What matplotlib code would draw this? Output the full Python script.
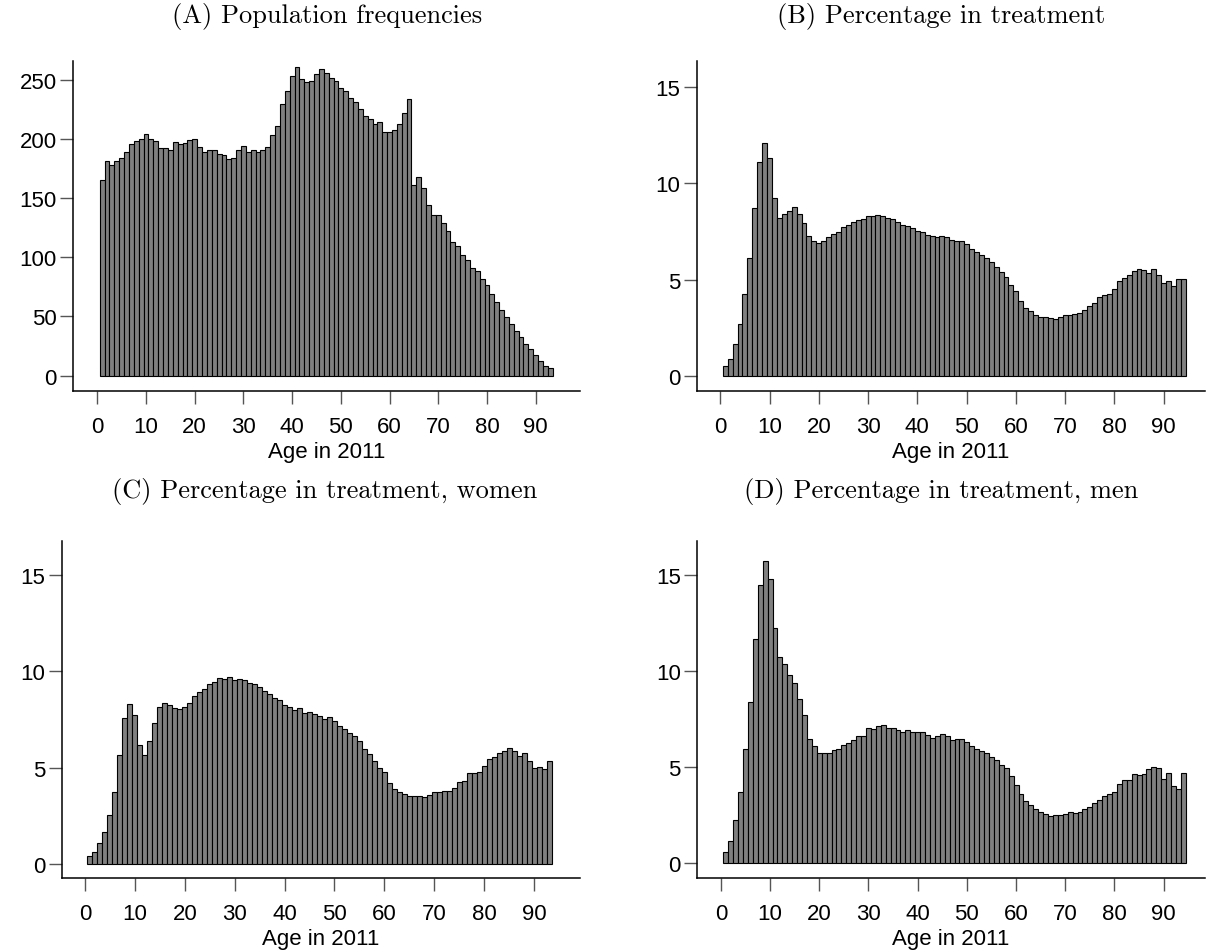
import matplotlib
matplotlib.use('Agg')
import matplotlib.pyplot as plt
import numpy as np

# ---- data: bars per single year of age ----
ages_a = np.arange(1, 94)
pop_freq = [165.5, 181, 177.6, 181, 183.6, 188.6, 196, 198, 200, 203.8,
            200, 198, 192.3, 192.3, 191, 197.6, 196, 196.8, 199.3, 200,
            193, 189, 191, 190.3, 187, 186, 183.3, 184, 190.3, 193.7,
            189, 190.6, 188.6, 191, 193, 203, 210.6, 229.7, 240.7, 252.8,
            260.4, 251, 248.3, 248.6, 254.8, 259, 255.3, 251.4, 249, 243,
            240.4, 234.5, 230.9, 225, 219.6, 216.8, 213, 214, 206, 205.5,
            207.5, 212.8, 221.6, 233.4, 161.3, 168, 158.8, 144.4, 135.4, 135.4,
            129, 122.5, 113.2, 109.2, 102.2, 97.4, 91.2, 88.4, 81.6, 76.9,
            68.7, 62.2, 55.2, 49.8, 43.4, 38, 32.9, 26.7, 22.2, 17.5,
            12.2, 8.4, 6.2]

ages_b = np.arange(1, 95)
pct_all = [0.49, 0.87, 1.65, 2.67, 4.27, 6.10, 8.70, 11.10, 12.09, 11.32,
           9.26, 8.22, 8.39, 8.58, 8.77, 8.43, 7.92, 7.25, 7.02, 6.88,
           7.02, 7.20, 7.39, 7.49, 7.75, 7.84, 8.01, 8.12, 8.17, 8.29,
           8.29, 8.34, 8.29, 8.18, 8.13, 7.98, 7.84, 7.77, 7.66, 7.53,
           7.46, 7.33, 7.28, 7.20, 7.27, 7.20, 7.04, 6.99, 7.02, 6.85,
           6.59, 6.45, 6.29, 6.14, 5.93, 5.64, 5.38, 5.12, 4.73, 4.39,
           3.87, 3.54, 3.36, 3.17, 3.07, 3.03, 2.98, 2.97, 3.03, 3.17,
           3.17, 3.21, 3.24, 3.40, 3.62, 3.76, 4.07, 4.20, 4.27, 4.53,
           4.91, 5.08, 5.22, 5.43, 5.53, 5.48, 5.36, 5.53, 5.22, 4.80,
           4.94, 4.66, 5.01, 5.05]

ages_c = np.arange(1, 94)
pct_women = [0.43, 0.64, 1.09, 1.66, 2.56, 3.75, 5.64, 7.56, 8.32, 7.75,
             6.16, 5.64, 6.40, 7.30, 8.13, 8.37, 8.24, 8.10, 8.06, 8.13,
             8.34, 8.73, 8.93, 9.07, 9.36, 9.43, 9.64, 9.58, 9.69, 9.53,
             9.60, 9.55, 9.38, 9.33, 9.20, 8.99, 8.84, 8.61, 8.51, 8.25,
             8.15, 7.99, 8.08, 7.84, 7.87, 7.78, 7.66, 7.54, 7.61, 7.44,
             7.14, 6.99, 6.78, 6.62, 6.37, 5.97, 5.71, 5.36, 4.98, 4.76,
             4.20, 3.87, 3.75, 3.61, 3.53, 3.53, 3.53, 3.46, 3.56, 3.75,
             3.72, 3.79, 3.79, 3.93, 4.24, 4.29, 4.74, 4.71, 4.76, 5.09,
             5.43, 5.55, 5.74, 5.86, 6.04, 5.85, 5.59, 5.78, 5.35, 4.98,
             5.03, 4.91, 5.33]

ages_d = np.arange(1, 95)
pct_men = [0.60, 1.16, 2.25, 3.70, 5.95, 8.39, 11.66, 14.48, 15.72, 14.77,
           12.23, 10.73, 10.36, 9.82, 9.38, 8.53, 7.70, 6.47, 6.09, 5.73,
           5.73, 5.73, 5.90, 5.95, 6.14, 6.25, 6.40, 6.61, 6.62, 7.04,
           6.99, 7.13, 7.20, 7.06, 7.04, 6.94, 6.83, 6.92, 6.81, 6.81,
           6.81, 6.68, 6.50, 6.62, 6.71, 6.62, 6.43, 6.45, 6.49, 6.30,
           6.11, 5.97, 5.85, 5.73, 5.54, 5.38, 5.12, 4.96, 4.53, 4.07,
           3.63, 3.23, 3.04, 2.80, 2.65, 2.58, 2.47, 2.51, 2.51, 2.59,
           2.66, 2.63, 2.68, 2.80, 2.94, 3.15, 3.27, 3.49, 3.58, 3.70,
           4.10, 4.32, 4.32, 4.64, 4.58, 4.67, 4.93, 5.00, 4.96, 4.40,
           4.71, 4.00, 3.86, 4.72]

titles = ["(A) Population frequencies", "(B) Percentage in treatment",
          "(C) Percentage in treatment, women", "(D) Percentage in treatment, men"]
x_ticks = np.arange(0, 91, 10)
y_ticks_a = np.arange(0, 251, 50)
y_ticks_pct = [0, 5, 10, 15]

W, H = 1217, 953
fig = plt.figure(figsize=(W / 100, H / 100), dpi=100)


def add_panel(left, right, top, bottom):
    return fig.add_axes([left / W, 1 - bottom / H, (right - left) / W, (bottom - top) / H])


def style(ax, xlim, ylim, yticks):
    ax.set_xlim(*xlim)
    ax.set_ylim(*ylim)
    ax.set_xticks(x_ticks)
    ax.set_yticks(yticks)
    for s in ['top', 'right']:
        ax.spines[s].set_visible(False)
    for s in ['left', 'bottom']:
        ax.spines[s].set_linewidth(1.1)
    ax.tick_params(length=9.5, width=1.0, color='#555555', labelsize=16)
    ax.tick_params(axis='x', pad=8.5)
    ax.tick_params(axis='y', pad=2.5)
    for lab in ax.get_xticklabels() + ax.get_yticklabels():
        lab.set_fontfamily('Liberation Sans')
    ax.set_xlabel("Age in 2011", fontsize=16, family='Liberation Sans', labelpad=2.5)


panels = [
    ((73.3, 580, 62, 392.3), ages_a, pop_freq, (-4.93, 99.1), (-13.2, 265.8), y_ticks_a, 327, 17),
    ((696.7, 1205, 62, 392.3), ages_b, pct_all, (-4.79, 98.4), (-0.81, 16.37), y_ticks_pct, 941, 17),
    ((61.7, 580, 541.7, 879.3), ages_c, pct_women, (-4.67, 99.2), (-0.74, 16.78), y_ticks_pct, 325, 492),
    ((697.3, 1205, 541.7, 879.3), ages_d, pct_men, (-4.79, 98.4), (-0.78, 16.78), y_ticks_pct, 941, 492),
]

for (box, ages, vals, xlim, ylim, yt, tx, ty), title in zip(panels, titles):
    ax = add_panel(*box)
    ax.bar(ages, vals, width=1.0, color='#808080', edgecolor='black', linewidth=0.8)
    style(ax, xlim, ylim, yt)
    fig.text(tx / W, 1 - ty / H, title, ha='center', va='center',
             fontsize=19, family='cmr10')

fig.savefig("out.png", dpi=100)
